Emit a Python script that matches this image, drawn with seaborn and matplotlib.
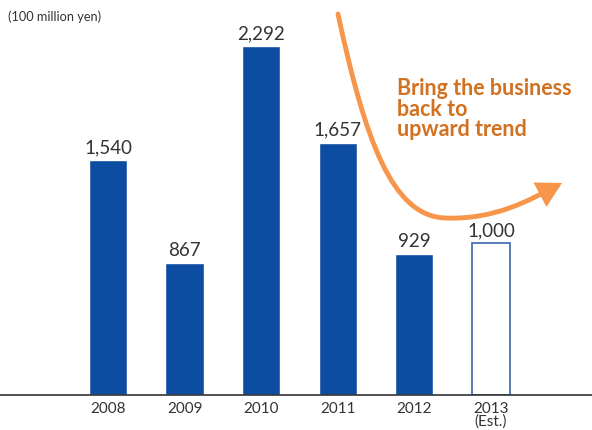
import matplotlib
matplotlib.use("Agg")
import matplotlib.pyplot as plt
import seaborn as sns
import pandas as pd
from matplotlib.path import Path
from matplotlib.patches import FancyArrowPatch

years = ["2008", "2009", "2010", "2011", "2012", "2013\n(Est.)"]
values = [1540, 867, 2292, 1657, 929, 1000]
value_labels = ["1,540", "867", "2,292", "1,657", "929", "1,000"]

sns.set_theme(style="white")
plt.rcParams['font.family'] = ['Lato', 'DejaVu Sans']

df = pd.DataFrame({"year": years, "value": values})

fig = plt.figure(figsize=(5.92, 4.30), dpi=100)
ax = fig.add_axes([0, 35 / 430, 1, 395 / 430])

blue = "#0D4DA1"
sns.barplot(data=df, x="year", y="value", color=blue, width=0.5,
            saturation=1, ax=ax)

# estimated bar drawn hollow
last = ax.patches[-1]
last.set_facecolor("white")
last.set_edgecolor("#3A66AA")
last.set_linewidth(1.2)

for i, (v, lab) in enumerate(zip(values, value_labels)):
    ax.text(i, v + 25, lab, ha="center", va="bottom", fontsize=13.5,
            color="#333333")

ax.set_xlim(-1.41, 6.32)
ax.set_ylim(0, 2594)
ax.set_xlabel("")
ax.set_ylabel("")
ax.set_yticks([])
for s in ["top", "right", "left"]:
    ax.spines[s].set_visible(False)
ax.spines["bottom"].set_color("#333333")
ax.spines["bottom"].set_linewidth(1.2)
ax.tick_params(axis="x", length=0, pad=5, labelsize=11, colors="#333333")
for t in ax.get_xticklabels():
    t.set_linespacing(0.85)

fig.text(8 / 592, 1 - 17 / 430, "(100 million yen)", fontsize=9.2,
         color="#333333", va="center", ha="left")

# orange trend arrow, in pixel coords of the figure
def px(x, y):
    return (x / 592, 1 - y / 430)

verts = [px(338, 14), px(365, 140), px(392, 216), px(445, 218),
         px(495, 220), px(530, 200), px(562, 183)]
codes = [Path.MOVETO, Path.CURVE4, Path.CURVE4, Path.CURVE4,
         Path.CURVE4, Path.CURVE4, Path.CURVE4]
arrow = FancyArrowPatch(path=Path(verts, codes), transform=fig.transFigure,
                        arrowstyle="-|>,head_length=9,head_width=5",
                        color="#F7964A", lw=3.5, mutation_scale=1.4,
                        joinstyle="miter")
fig.patches.append(arrow)

fig.text(397 / 592, 1 - 78 / 430, "Bring the business\nback to\nupward trend",
         fontsize=15.5, fontweight="bold", color="#D2711F", ha="left", va="top",
         linespacing=0.98)

fig.savefig("out.png", dpi=100)
